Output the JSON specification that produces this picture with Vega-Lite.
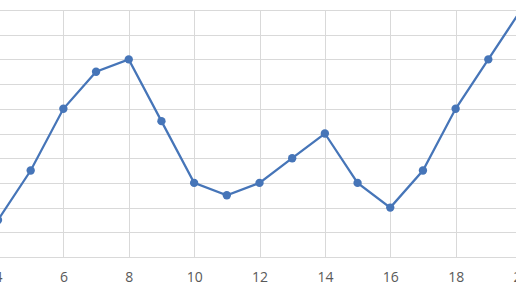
{
  "$schema": "https://vega.github.io/schema/vega-lite/v6.json",
  "autosize": "none",
  "width": 523,
  "height": 247,
  "padding": {"left": -2, "top": 10, "right": 0, "bottom": 33},
  "background": "white",
  "config": {"view": {"stroke": null}},
  "data": {"values": [
    {"x": 4, "y": 1.5}, {"x": 5, "y": 3.5}, {"x": 6, "y": 6}, {"x": 7, "y": 7.5},
    {"x": 8, "y": 8}, {"x": 9, "y": 5.5}, {"x": 10, "y": 3}, {"x": 11, "y": 2.5},
    {"x": 12, "y": 3}, {"x": 13, "y": 4}, {"x": 14, "y": 5}, {"x": 15, "y": 3},
    {"x": 16, "y": 2}, {"x": 17, "y": 3.5}, {"x": 18, "y": 6}, {"x": 19, "y": 8},
    {"x": 20, "y": 10}
  ]},
  "mark": {"type": "line", "color": "#4675b8", "strokeWidth": 2.25, "point": {"filled": true, "size": 70, "color": "#4675b8", "opacity": 1}},
  "encoding": {
    "x": {"field": "x", "type": "quantitative",
      "scale": {"domain": [4, 20], "nice": false, "zero": false},
      "axis": {"title": null, "values": [4, 6, 8, 10, 12, 14, 16, 18, 20], "grid": true, "gridColor": "#d9d9d9", "gridWidth": 1,
        "domainColor": "#d9d9d9", "domainWidth": 1, "ticks": false, "labelPadding": 13,
        "labelFont": "Open Sans", "labelFontSize": 14, "labelColor": "#595959", "labelFlush": false, "labelOverlap": false}},
    "y": {"field": "y", "type": "quantitative",
      "scale": {"domain": [0, 10], "nice": false},
      "axis": {"title": null, "values": [0, 1, 2, 3, 4, 5, 6, 7, 8, 9, 10], "grid": true, "gridColor": "#d9d9d9", "gridWidth": 1,
        "domain": false, "ticks": false, "labels": false}}
  }
}
